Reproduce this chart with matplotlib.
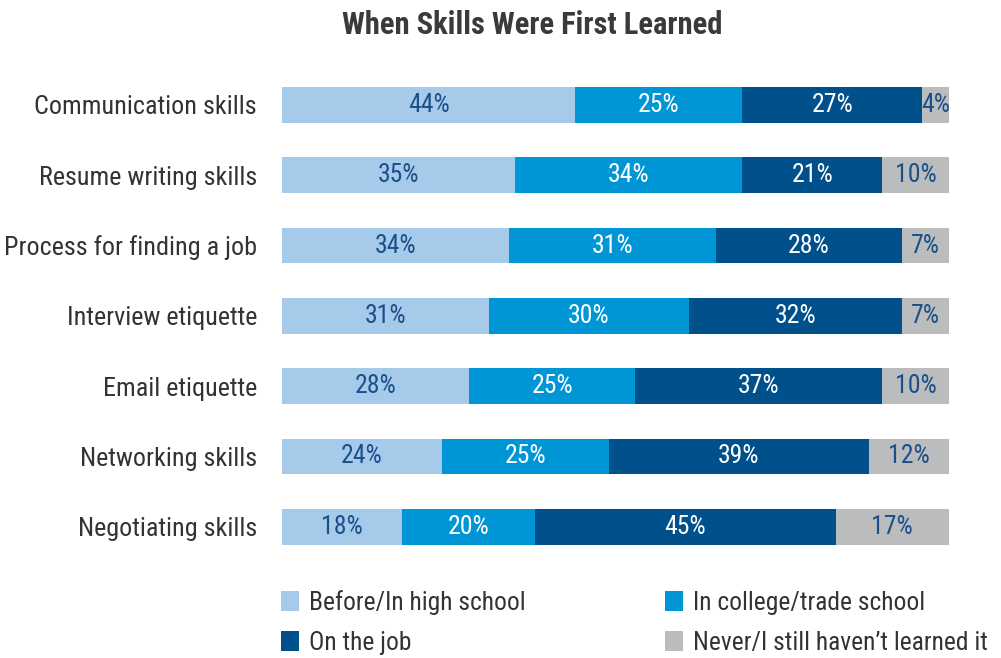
import matplotlib.pyplot as plt
import numpy as np

plt.rcParams['font.family'] = ['Roboto Condensed', 'Archivo Narrow', 'DejaVu Sans']

# data
skills = ['Communication skills', 'Resume writing skills', 'Process for finding a job',
          'Interview etiquette', 'Email etiquette', 'Networking skills', 'Negotiating skills']
high_school = [44, 35, 34, 31, 28, 24, 18]
college = [25, 34, 31, 30, 25, 25, 20]
on_job = [27, 21, 28, 32, 37, 39, 45]
never = [4, 10, 7, 7, 10, 12, 17]

series = ['Before/In high school', 'In college/trade school', 'On the job', 'Never/I still haven\u2019t learned it']
colors = ['#a6cbea', '#0096d6', '#00508b', '#bbbcbe']
text_colors = ['#1b4f8a', 'white', 'white', '#1b4f8a']

fig = plt.figure(figsize=(10.01, 6.58), dpi=100)
ax = fig.add_axes([0.2817, 0.146, 0.6663, 0.748])

y = np.arange(len(skills))
left = np.zeros(len(skills))
handles = []
for vals, c, tc, name in zip([high_school, college, on_job, never], colors, text_colors, series):
    bars = ax.barh(y, vals, left=left, height=0.51, color=c, label=name)
    handles.append(bars)
    for yi, v, l in zip(y, vals, left):
        ax.text(l + v / 2, yi, f'{v}%', ha='center', va='center', color=tc, fontsize=18.5)
    left = left + np.array(vals)

ax.set_xlim(0, 100)
ax.set_ylim(len(skills) - 0.5, -0.5)
ax.set_yticks(y)
ax.set_yticklabels(skills, fontsize=18.8, color='#333333')
ax.tick_params(axis='y', length=0, pad=18)
ax.set_xticks([])
for s in ax.spines.values():
    s.set_visible(False)

fig.text(0.532, 0.962, 'When Skills Were First Learned', ha='center', va='center',
         fontsize=22, fontweight='bold', color='#3a3a3a')

order = [0, 2, 1, 3]
fig.legend([handles[i] for i in order], [series[i] for i in order], ncol=2,
           loc='upper left', bbox_to_anchor=(0.2577, 0.138), frameon=False,
           fontsize=18.4, handlelength=0.7, handleheight=0.8,
           handletextpad=0.4, columnspacing=5.45, labelspacing=0.61, labelcolor='#333333')

fig.savefig('out.png')
